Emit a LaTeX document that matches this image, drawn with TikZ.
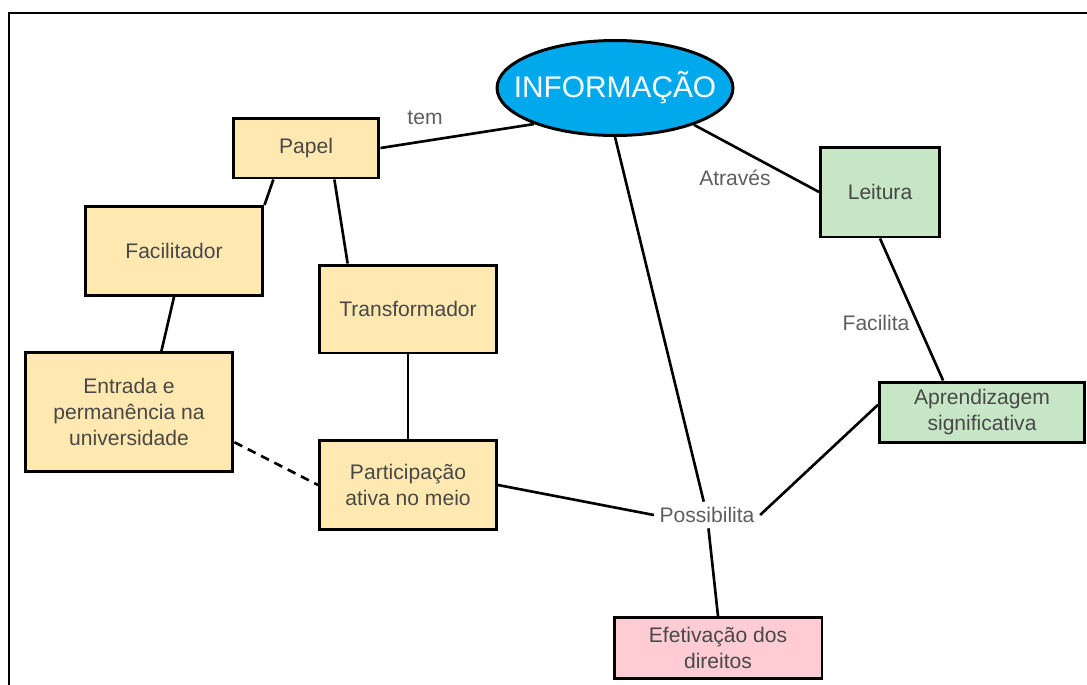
\documentclass[tikz,border=0pt]{standalone}
\usepackage{fontspec}
\setmainfont{Liberation Sans}
\usetikzlibrary{shapes.geometric}
\definecolor{info blue}{HTML}{00A9EC}
\definecolor{papel yellow}{HTML}{FFE9B0}
\definecolor{leitura green}{HTML}{C6E6C6}
\definecolor{direito pink}{HTML}{FFCCD3}
\definecolor{box text}{HTML}{484848}
\definecolor{link text}{HTML}{5E5E5E}

\begin{document}
\begin{tikzpicture}[x=0.02cm, y=-0.02cm,
		concept/.style = {draw = black, line width = 1.7pt, text = box text, align = center,
			inner sep = 0pt, font = \fontsize{12}{15}\selectfont},
		link/.style = {text = link text, inner sep = 3pt, font = \fontsize{12}{15}\selectfont},
		edge/.style = {line width = 1.5pt}]
		\useasboundingbox (0, 0) rectangle (1087, 684);
		% frame
		\draw[line width = 1.2pt] (1090, 13) -- (9, 13) -- (9, 690);
		% central ellipse
		\node[ellipse, draw = black, line width = 1.7pt, fill = info blue, text = white,
			minimum width = 4.72cm, minimum height = 1.9cm, inner xsep = -0.36cm, inner ysep = 0pt,
			font = \fontsize{17}{20}\selectfont] (info) at (615, 88) {INFORMAÇÃO};
		% yellow side
		\node[concept, fill = papel yellow, minimum width = 2.92cm, minimum height = 1.2cm]
			(papel) at (306, 148) {Papel};
		\node[concept, fill = papel yellow, minimum width = 3.56cm, minimum height = 1.78cm]
			(facil) at (174, 251) {Facilitador};
		\node[concept, fill = papel yellow, minimum width = 3.54cm, minimum height = 1.76cm]
			(transf) at (408, 309) {Transformador};
		\node[concept, fill = papel yellow, minimum width = 4.16cm, minimum height = 2.38cm]
			(entrada) at (129, 412) {Entrada e\\permanência na\\universidade};
		\node[concept, fill = papel yellow, minimum width = 3.54cm, minimum height = 1.78cm]
			(partic) at (408, 485) {Participação\\ativa no meio};
		% green side
		\node[concept, fill = leitura green, minimum width = 2.38cm, minimum height = 1.8cm]
			(leitura) at (880, 192) {Leitura};
		\node[concept, fill = leitura green, minimum width = 4.1cm, minimum height = 1.2cm]
			(aprend) at (982, 412) {Aprendizagem\\significativa};
		% bottom
		\node[concept, fill = direito pink, minimum width = 4.16cm, minimum height = 1.22cm]
			(efet) at (718, 648) {Efetivação dos\\direitos};
		% linking words
		\node[link] (tem) at (425, 118) {tem};
		\node[link] (atraves) at (735, 178) {Através};
		\node[link] (facilita) at (876, 323) {Facilita};
		\node[link] (poss) at (707, 515) {Possibilita};
		% connectors
		\draw[edge] (papel.east) -- (info.204);
		\draw[edge] (papel.224) -- (facil.north east);
		\draw[edge] (papel.312) -- (transf.143);
		\draw[edge] (facil.south) -- (entrada.62);
		\draw[edge] (transf.south) -- (partic.north);
		\draw[edge, dash pattern = on 5pt off 3.5pt] (entrada.344) -- (partic.west);
		\draw[edge] (partic.east) -- (poss.west);
		\draw[edge] (info.south) -- (poss);
		\draw[edge] (poss) -- (efet.north);
		\draw[edge] (info.335) -- (leitura.west);
		\draw[edge] (leitura.south) -- (aprend.141);
		\draw[edge] (poss.east) -- (aprend.176);
	\end{tikzpicture}
\end{document}
